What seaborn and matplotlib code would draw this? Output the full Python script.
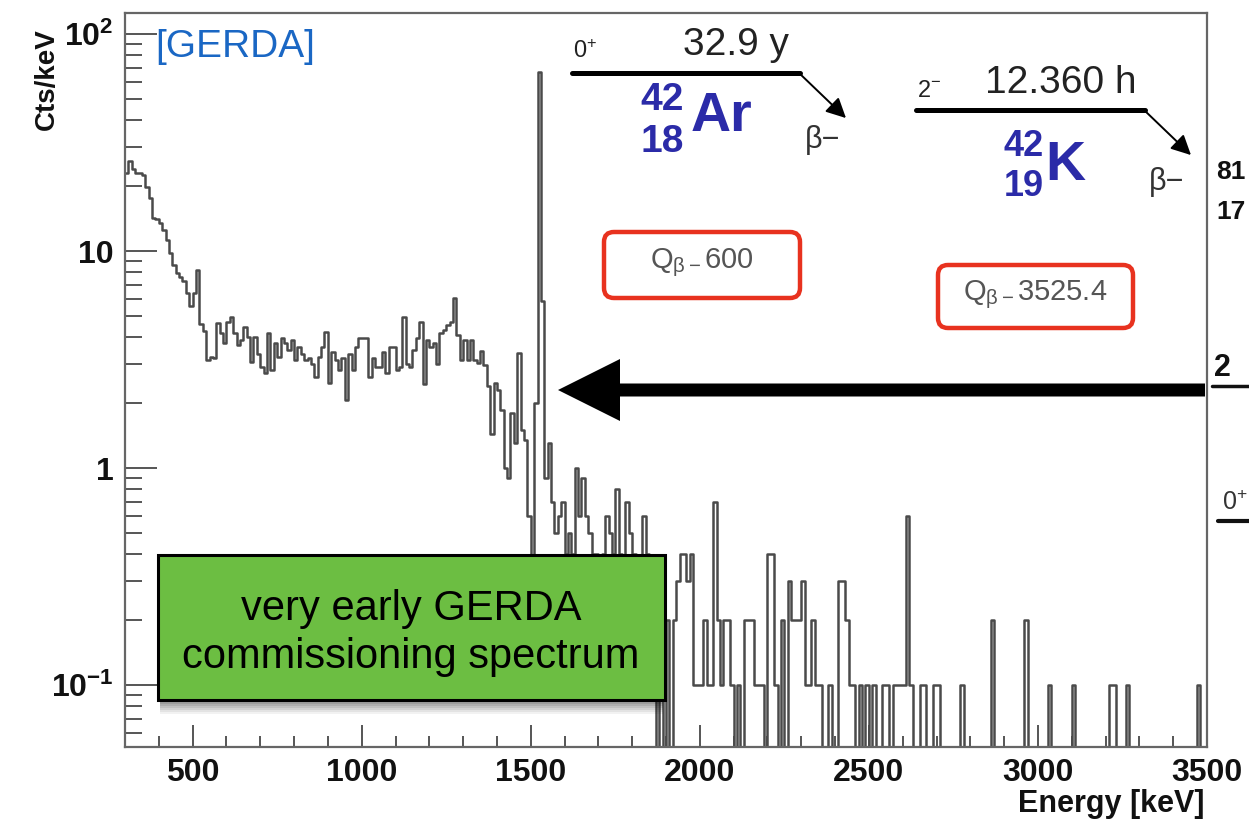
import numpy as np
import matplotlib
matplotlib.use("Agg")
import matplotlib.pyplot as plt
import seaborn as sns
from matplotlib.patches import Rectangle, FancyBboxPatch, FancyArrow, FancyArrowPatch
from matplotlib.lines import Line2D
from matplotlib.ticker import FixedLocator, NullFormatter

# ---------------- data (Cts/keV in 10 keV bins, 300 - 3500 keV) ----------------
bin_width = 10
e_min, e_max = 300, 3500

cts_300_790 = [23, 26, 24, 23, 23, 22.5, 19.8, 17.5, 14.2, 14.0,
               13.5, 12.5, 11.2, 9.8, 8.6, 7.9, 7.6, 7.3, 6.4, 5.6,
               6.4, 8.2, 4.6, 4.3, 3.15, 3.25, 3.2, 4.65, 4.2, 3.77,
               4.7, 4.97, 4.17, 3.69, 3.89, 4.47, 4.03, 3.08, 4.03, 3.37,
               2.93, 2.73, 4.17, 2.83, 3.75, 3.26, 3.96, 3.75, 3.49, 3.89]
cts_800_1290 = [3.14, 3.62, 3.37, 3.14, 3.2, 3.03, 2.63, 3.26, 3.62, 4.25,
                2.47, 3.43, 3.14, 2.83, 3.2, 2.06, 3.37, 2.83, 3.62, 3.96,
                3.96, 3.96, 2.63, 3.2, 2.93, 2.93, 3.43, 2.73, 3.62, 3.62,
                2.83, 2.93, 4.97, 3.03, 2.93, 3.49, 3.96, 4.72, 2.45, 3.89,
                3.62, 3.75, 3.03, 4.17, 4.32, 4.55, 4.72, 6.05, 4.1, 3.15]
cts_1300_1790 = [3.9, 3.15, 3.9, 3.15, 3.05, 3.45, 2.98, 2.4, 1.44, 2.46,
                 2.3, 1.85, 1.0, 0.9, 1.8, 1.3, 3.4, 1.5, 1.35, 0.6,
                 0.3, 2.0, 67.0, 5.9, 0.9, 1.3, 0.7, 0.5, 0.6, 0.7,
                 0.4, 0.5, 0.4, 1.0, 0.6, 0.9, 0.6, 0.5, 0.4, 0.4,
                 0.3, 0.4, 0.6, 0.5, 0.4, 0.8, 0.4, 0.3, 0.7, 0.5]
cts_1800_2290 = [0.4, 0.3, 0.2, 0.6, 0.4, 0.3, 0.2, 0.0, 0.3, 0.0,
                 0.2, 0.0, 0.2, 0.3, 0.4, 0.4, 0.3, 0.4, 0.1, 0.1,
                 0.1, 0.2, 0.1, 0.1, 0.7, 0.2, 0.1, 0.2, 0.2, 0.1,
                 0.0, 0.1, 0.0, 0.2, 0.2, 0.2, 0.1, 0.1, 0.1, 0.0,
                 0.4, 0.4, 0.1, 0.0, 0.2, 0.0, 0.3, 0.2, 0.2, 0.2]
cts_2300_2790 = [0.3, 0.1, 0.1, 0.2, 0.1, 0.1, 0.0, 0.0, 0.1, 0.0,
                 0.0, 0.3, 0.3, 0.2, 0.1, 0.1, 0.0, 0.1, 0.0, 0.1,
                 0.0, 0.1, 0.0, 0.0, 0.1, 0.1, 0.0, 0.1, 0.1, 0.1,
                 0.1, 0.6, 0.1, 0.0, 0.0, 0.1, 0.1, 0.0, 0.0, 0.1,
                 0.1, 0.0, 0.0, 0.0, 0.0, 0.0, 0.0, 0.1, 0.0, 0.0]
cts_2800_3490 = [0, 0, 0, 0, 0, 0, 0.2, 0, 0, 0,
                 0, 0, 0, 0, 0, 0, 0.2, 0, 0, 0,
                 0, 0, 0, 0.1, 0, 0, 0, 0, 0, 0,
                 0.1, 0, 0, 0, 0, 0, 0, 0, 0, 0,
                 0, 0.1, 0.1, 0, 0, 0, 0.1, 0, 0, 0,
                 0, 0, 0, 0, 0, 0, 0, 0, 0, 0,
                 0, 0, 0, 0, 0, 0, 0, 0.1, 0, 0]

x_major = [500, 1000, 1500, 2000, 2500, 3000, 3500]
x_labels = ["500", "1000", "1500", "2000", "2500", "3000", "3500"]
y_major = [0.1, 1, 10, 100]
y_labels = [r"$\mathbf{10^{-1}}$", "1", "10", r"$\mathbf{10^{2}}$"]

counts = np.array(cts_300_790 + cts_800_1290 + cts_1300_1790 +
                  cts_1800_2290 + cts_2300_2790 + cts_2800_3490, dtype=float)
edges = np.arange(e_min, e_max + bin_width, bin_width)
df_x = edges
df_y = np.append(counts, counts[-1])

# ---------------- figure ----------------
W, H = 1249, 822
sns.set_theme(style="white")
plt.rcParams["font.family"] = ["Liberation Sans", "DejaVu Sans"]
plt.rcParams["mathtext.fontset"] = "custom"
plt.rcParams["mathtext.rm"] = "Liberation Sans"
plt.rcParams["mathtext.it"] = "Liberation Sans"
plt.rcParams["mathtext.bf"] = "Liberation Sans:bold"

fig = plt.figure(figsize=(W / 100, H / 100), dpi=100)
fig.patch.set_facecolor("white")
ax = fig.add_axes([125 / W, 1 - 747 / H, (1207 - 125) / W, (747 - 13) / H])
ax.set_facecolor("white")

sns.lineplot(x=df_x, y=df_y, drawstyle="steps-post", estimator=None, sort=False,
             color="#4a4a4a", linewidth=1.8, ax=ax)
ax.set_yscale("log", nonpositive="clip")
ax.set_xlim(e_min, e_max)
ax.set_ylim(0.0518, 125)

for s in ax.spines.values():
    s.set_color("#666666")
    s.set_linewidth(1.6)

ax.xaxis.set_major_locator(FixedLocator(x_major))
ax.xaxis.set_minor_locator(FixedLocator(np.arange(400, 3500, 100)))
ax.set_xticklabels(x_labels, fontsize=23, fontweight="bold", color="#111111")
ax.yaxis.set_major_locator(FixedLocator(y_major))
minors = [m * 10.0 ** d for d in (-2, -1, 0, 1) for m in range(2, 10)]
ax.yaxis.set_minor_locator(FixedLocator(minors))
ax.yaxis.set_minor_formatter(NullFormatter())
ax.set_yticklabels(y_labels, fontsize=23, fontweight="bold", color="#111111")
ax.tick_params(axis="x", which="major", direction="in", length=16, width=1.4,
               color="#555555", pad=8, bottom=True, top=False)
ax.tick_params(axis="x", which="minor", direction="in", length=8, width=1.4,
               color="#555555", bottom=True, top=False)
ax.tick_params(axis="y", which="major", direction="in", length=23, width=1.4,
               color="#555555", pad=8, left=True, right=False)
ax.tick_params(axis="y", which="minor", direction="in", length=12, width=1.4,
               color="#555555", left=True, right=False)
ax.set_xlabel("")
ax.set_ylabel("")

def fp(x, y):
    return (x / W, 1 - y / H)

def ip(x, y):
    return (x / 100, (H - y) / 100)

inch = fig.dpi_scale_trans
tf = fig.transFigure

# axis titles
fig.text(*fp(1205, 804), "Energy [keV]", ha="right", va="center", fontsize=22,
         fontweight="bold", color="#111111")
fig.text(*fp(47, 28), "Cts/keV", ha="center", va="top", rotation=90, fontsize=20,
         fontweight="bold", color="#111111")

# [GERDA]
fig.text(*fp(155, 47), "[GERDA]", ha="left", va="center", fontsize=28,
         color="#1a67c4")

# ---- 42Ar decay scheme ----
fig.add_artist(Line2D([572 / W, 800 / W], [1 - 73 / H] * 2, color="black", lw=3.6,
                      transform=tf))
fig.add_artist(FancyArrowPatch(ip(798, 72), ip(848, 120), transform=inch,
                               arrowstyle="-|>", mutation_scale=30, lw=1.4,
                               color="black"))
fig.text(*fp(573, 52), r"0$^{+}$", ha="left", va="center", fontsize=17, color="#222222")
fig.text(*fp(683, 45), "32.9 y", ha="left", va="center", fontsize=28, color="#222222")
fig.text(*fp(823, 140), "β−", ha="center", va="center", fontsize=22, color="#333333")
fig.text(*fp(662, 100), "42", ha="center", va="center", fontsize=28,
         fontweight="bold", color="#2b2ba8")
fig.text(*fp(662, 142), "18", ha="center", va="center", fontsize=28,
         fontweight="bold", color="#2b2ba8")
fig.text(*fp(721, 117), "Ar", ha="center", va="center", fontsize=40,
         fontweight="bold", color="#2b2ba8")

# ---- 42K decay scheme ----
fig.add_artist(Line2D([916 / W, 1145 / W], [1 - 110 / H] * 2, color="black", lw=3.6,
                      transform=tf))
fig.add_artist(FancyArrowPatch(ip(1143, 109), ip(1193, 157), transform=inch,
                               arrowstyle="-|>", mutation_scale=30, lw=1.4,
                               color="black"))
fig.text(*fp(917, 91), r"2$^{-}$", ha="left", va="center", fontsize=17, color="#222222")
fig.text(*fp(985, 83), "12.360 h", ha="left", va="center", fontsize=28, color="#222222")
fig.text(*fp(1167, 182), "β−", ha="center", va="center", fontsize=22, color="#333333")
fig.text(*fp(1024, 147), "42", ha="center", va="center", fontsize=26,
         fontweight="bold", color="#2b2ba8")
fig.text(*fp(1024, 186), "19", ha="center", va="center", fontsize=26,
         fontweight="bold", color="#2b2ba8")
fig.text(*fp(1065, 166), "K", ha="center", va="center", fontsize=40,
         fontweight="bold", color="#2b2ba8")

# level labels at the right border
fig.text(*fp(1216, 172), "81", ha="left", va="center", fontsize=19,
         fontweight="bold", color="#111111")
fig.text(*fp(1216, 212), "17", ha="left", va="center", fontsize=19,
         fontweight="bold", color="#111111")
fig.text(*fp(1214, 368), "2", ha="left", va="center", fontsize=22,
         fontweight="bold", color="#111111")
fig.add_artist(Line2D([1212 / W, 1249 / W], [1 - 386 / H] * 2, color="#111111",
                      lw=2.5, transform=tf))
fig.text(*fp(1222, 503), r"0$^{+}$", ha="left", va="center", fontsize=18,
         color="#333333")
fig.add_artist(Line2D([1218 / W, 1249 / W], [1 - 521 / H] * 2, color="#111111",
                      lw=3, transform=tf))

# ---- Q-value boxes ----
for (x0, y0, x1, y1, label) in [(604, 232, 800, 298, r"Q$_{\beta-}$600"),
                                (938, 265, 1133, 328, r"Q$_{\beta-}$3525.4")]:
    bx, by = ip(x0, y1)
    fig.add_artist(FancyBboxPatch((bx, by), (x1 - x0) / 100, (y1 - y0) / 100,
                                  boxstyle="round,pad=0,rounding_size=0.1",
                                  transform=inch, facecolor="white",
                                  edgecolor="#e8321f", lw=3.2))
    fig.text(*fp((x0 + x1) / 2, (y0 + y1) / 2 - 2), label, ha="center", va="center",
             fontsize=21, color="#555555")

# ---- big black arrow ----
ax0, ay0 = ip(1205, 390)
ax1, _ = ip(558, 390)
fig.add_artist(FancyArrow(ax0, ay0, ax1 - ax0, 0, width=0.13, head_width=0.62,
                          head_length=0.62, length_includes_head=True,
                          transform=inch, color="black", lw=0))

# ---- green label box with shadow ----
for k, a in enumerate([0.05, 0.06, 0.07, 0.08, 0.09, 0.1]):
    off = 14 - 2 * k
    sx, sy = ip(158 + 2, 700 + off)
    fig.add_artist(Rectangle((sx, sy), (665 - 158 - 4) / 100, (145) / 100,
                             transform=inch, facecolor="black", alpha=a, lw=0))
gx, gy = ip(158, 700)
fig.add_artist(Rectangle((gx, gy), (665 - 158) / 100, (700 - 555) / 100,
                         transform=inch, facecolor="#6cbe42", edgecolor="black",
                         lw=2.2))
fig.text(*fp(411, 609), "very early GERDA", ha="center", va="center", fontsize=30,
         color="black")
fig.text(*fp(411, 657), "commissioning spectrum", ha="center", va="center",
         fontsize=30, color="black")

fig.savefig("out.png", dpi=100, facecolor="white")
